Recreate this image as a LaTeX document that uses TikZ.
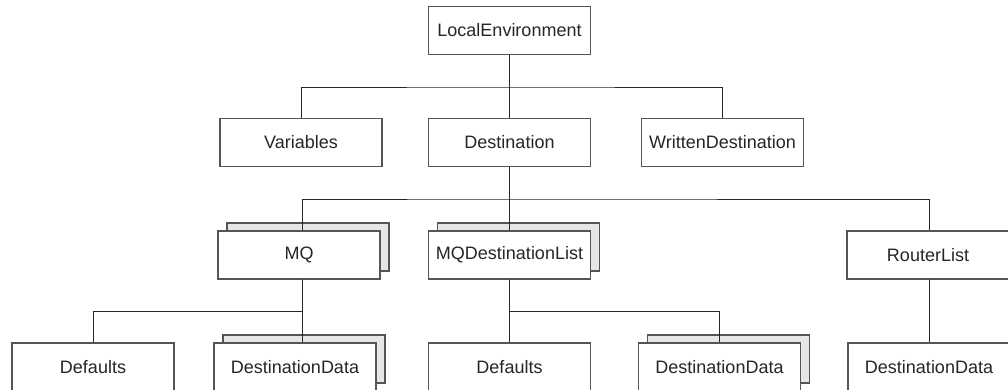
\documentclass[tikz,border=0pt]{standalone}
\usepackage{fontspec}
\setmainfont{Liberation Sans}
\usetikzlibrary{backgrounds}
\definecolor{boxline}{HTML}{555555}
\definecolor{shadefill}{HTML}{E6E6E6}
\tikzset{
  box/.style={draw=boxline, line width=1.1pt, fill=white, rectangle,
    minimum width=162pt, minimum height=48pt, inner sep=0pt,
    font=\fontsize{18pt}{20pt}\selectfont, text=black!85},
  backbox/.style={draw=boxline, line width=1.1pt, fill=shadefill, rectangle,
    minimum width=162pt, minimum height=48pt, inner sep=0pt},
  conn/.style={draw=black!85, line width=0.9pt}
}
\begin{document}
\begin{tikzpicture}[x=1pt,y=-1pt]
\clip (0,0) rectangle (1008,390);
% front boxes
\node[box] (le)   at (509.5,30.5) {LocalEnvironment};
\node[box] (var)  at (301,142.5)  {Variables};
\node[box] (dest) at (509.5,142.5){Destination};
\node[box] (wd)   at (722.5,142.5){WrittenDestination};
\node[box] (mq)   at (299,255)    {MQ};
\node[box] (mqdl) at (509.5,255)  {MQDestinationList};
\node[box] (rl)   at (928,255)    {RouterList};
\node[box] (def1) at (93,367)     {Defaults};
\node[box] (dd1)  at (295,367)    {DestinationData};
\node[box] (def2) at (509.5,367)  {Defaults};
\node[box] (dd2)  at (719.5,367)  {DestinationData};
\node[box] (dd3)  at (929,367)    {DestinationData};
% stacked back boxes
\begin{scope}[on background layer]
\fill[white] (0,0) rectangle (1008,390);
\node[backbox] (mqs)   at ([shift={(9,-8)}]mq.center) {};
\node[backbox] (mqdls) at ([shift={(9,-8)}]mqdl.center) {};
\node[backbox] (dd1s)  at ([shift={(9,-8)}]dd1.center) {};
\node[backbox] (dd2s)  at ([shift={(9,-8)}]dd2.center) {};
\end{scope}
% bus coordinates
\coordinate (b1) at (509.5,87);
\coordinate (b2) at (509.5,199);
\coordinate (b3) at (302,311);
\coordinate (b4) at (509.5,311);
% connectors
\draw[conn] (le.south) -- (dest.north);
\draw[conn] (var.north) |- (b1) -| (wd.north);
\draw[conn] (dest.south) -- (mqdl.north);
\draw[conn] ([xshift=3pt]mq.north) |- (b2) -| ([xshift=1pt]rl.north);
\draw[conn] ([xshift=3pt]mq.south) -- ([xshift=7pt]dd1.north);
\draw[conn] (def1.north) |- (b3);
\draw[conn] (mqdl.south) -- (def2.north);
\draw[conn] (b4) -| ([xshift=-0.5pt]dd2.north);
\draw[conn] ([xshift=1pt]rl.south) -- (dd3.north);
\end{tikzpicture}
\end{document}
